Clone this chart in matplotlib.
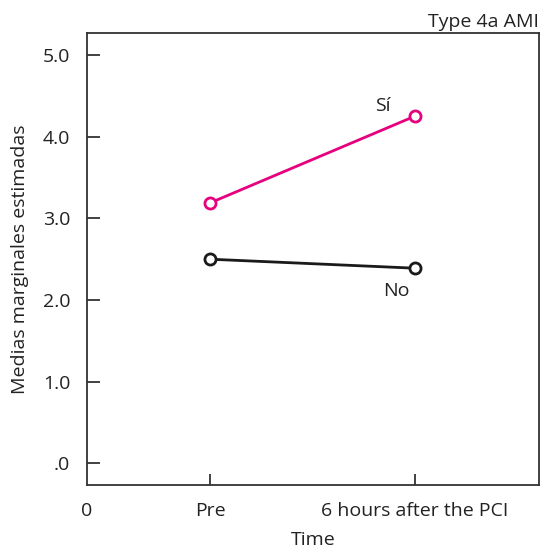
import matplotlib
matplotlib.use("Agg")
from matplotlib import pyplot as plt

plt.rcParams['font.family'] = ['Open Sans', 'DejaVu Sans']

# data
time_labels = ['Pre', '6 hours after the PCI']
time_pos = [1, 2.66]
si_values = [3.19, 4.25]
no_values = [2.50, 2.39]
y_ticks = [0, 1, 2, 3, 4, 5]
y_tick_labels = ['.0', '1.0', '2.0', '3.0', '4.0', '5.0']

fs = 14
fig = plt.figure(figsize=(5.4, 5.51), dpi=100)
ax = fig.add_axes([87 / 540, 1 - 485 / 551, 452 / 540, 452 / 551])

pink = '#e6007e'
dark = '#1a1a1a'
ax.plot(time_pos, si_values, color=pink, lw=2.0, marker='o', ms=8,
        mfc='white', mec=pink, mew=2.0, zorder=3)
ax.plot(time_pos, no_values, color=dark, lw=2.0, marker='o', ms=8,
        mfc='white', mec=dark, mew=2.0, zorder=3)

ax.text(2.4, 4.27, 'Sí', fontsize=fs, color='#222222', ha='center', va='bottom')
ax.text(2.51, 2.22, 'No', fontsize=fs, color='#222222', ha='center', va='top')

ax.set_xlim(0, 3.67)
ax.set_ylim(-0.265, 5.27)
ax.set_xticks([0] + time_pos)
ax.set_xticklabels(['0'] + time_labels)
ax.set_yticks(y_ticks)
ax.set_yticklabels(y_tick_labels)
ax.tick_params(axis='y', direction='in', length=9, width=1.3, color='#333333',
               labelsize=fs, labelcolor='#222222', pad=12)
ax.tick_params(axis='x', direction='in', length=8, width=1.3, color='#333333',
               labelsize=fs, labelcolor='#222222', pad=12)
# first x tick is only a label
ax.xaxis.get_major_ticks()[0].tick1line.set_visible(False)

for s in ax.spines.values():
    s.set_color('#333333')
    s.set_linewidth(1.3)

ax.set_xlabel('Time', fontsize=fs, color='#222222', labelpad=8)
ax.set_ylabel('Medias marginales estimadas', fontsize=fs, color='#222222', labelpad=10)
ax.text(1.0, 1.005, 'Type 4a AMI', transform=ax.transAxes, fontsize=fs,
        color='#222222', ha='right', va='bottom')

fig.savefig('out.png', dpi=100)
